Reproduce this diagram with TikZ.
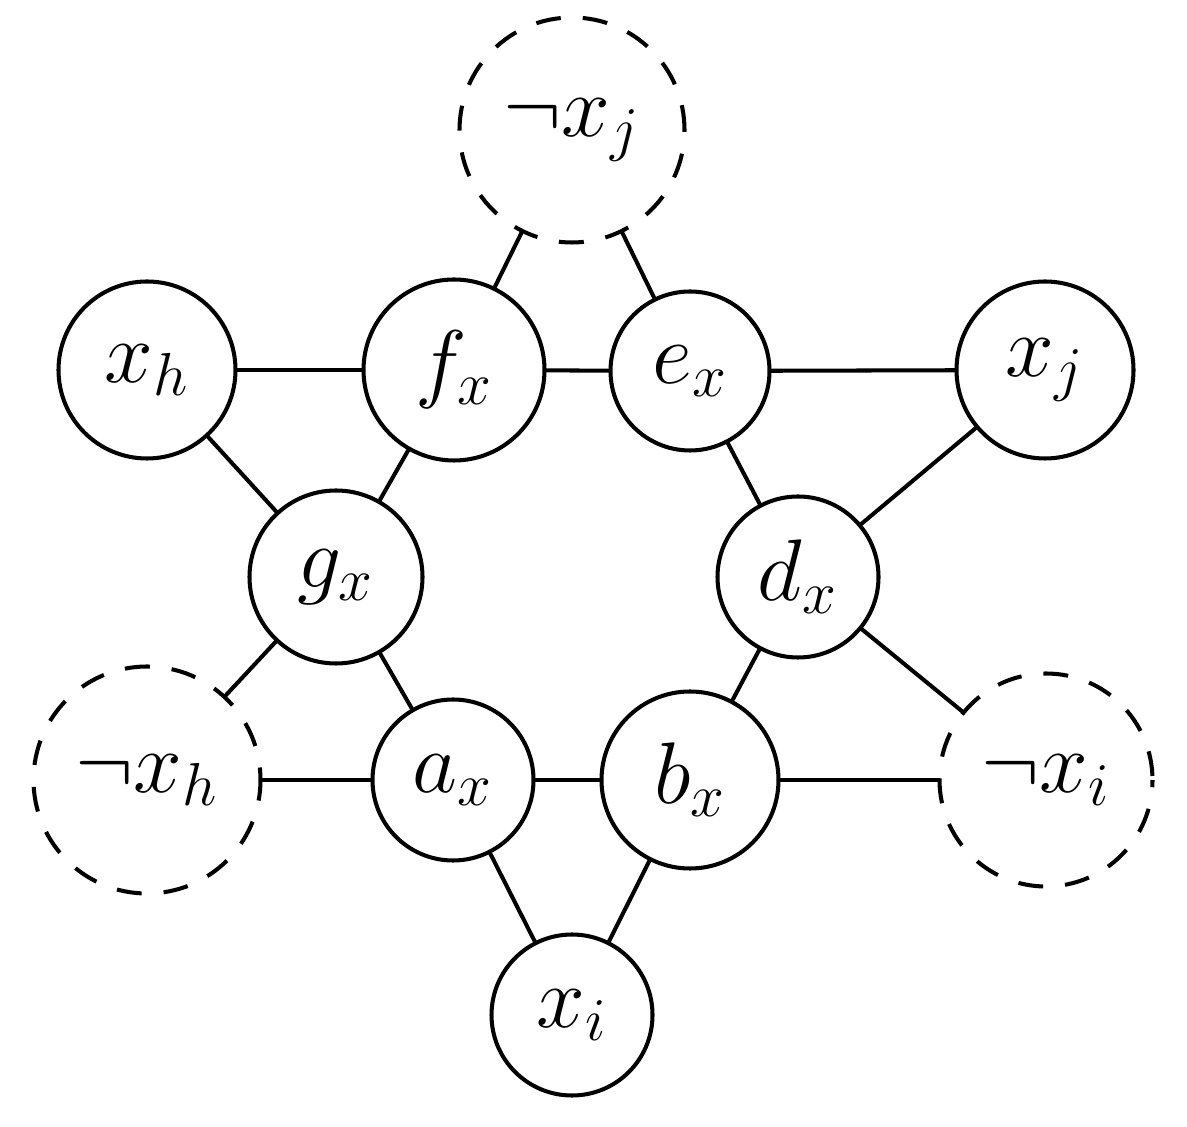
\documentclass[tikz,border=0pt]{standalone}
\begin{document}
\begin{tikzpicture}[
  vnode/.style={circle,draw,line width=1.15pt,inner sep=0pt,outer sep=0pt,font=\fontsize{25.5}{30}\selectfont},
  neg/.style={vnode,dash pattern=on 0.25cm off 0.22cm},
  edge/.style={line width=1.15pt}
]
\useasboundingbox (0,0) rectangle (11.87,-11.27);
\node[neg,minimum size=2.25cm] (nxj) at (5.72,-1.30) {$\neg x_j$};
\node[vnode,minimum size=1.77cm] (xh) at (1.47,-3.70) {$x_h$};
\node[vnode,minimum size=1.81cm] (fx) at (4.54,-3.70) {$f_x$};
\node[vnode,minimum size=1.59cm] (ex) at (6.90,-3.71) {$e_x$};
\node[vnode,minimum size=1.77cm] (xj) at (10.45,-3.70) {$x_j$};
\node[vnode,minimum size=1.73cm] (gx) at (3.36,-5.77) {$g_x$};
\node[vnode,minimum size=1.61cm] (dx) at (7.98,-5.77) {$d_x$};
\node[neg,minimum size=2.27cm,dash phase=0.125cm] (nxh) at (1.47,-7.80) {$\neg x_h$};
\node[vnode,minimum size=1.61cm] (ax) at (4.53,-7.80) {$a_x$};
\node[vnode,minimum size=1.77cm] (bx) at (6.90,-7.80) {$b_x$};
\node[neg,minimum size=2.13cm,dash phase=0.43cm] (nxi) at (10.46,-7.80) {$\neg x_i$};
\node[vnode,minimum size=1.61cm] (xi) at (5.72,-10.15) {$x_i$};
\draw[edge] (nxj) -- (fx);
\draw[edge] (nxj) -- (ex);
\draw[edge] (xh) -- (fx);
\draw[edge] (fx) -- (ex);
\draw[edge] (ex) -- (xj);
\draw[edge] (xh) -- (gx);
\draw[edge] (fx) -- (gx);
\draw[edge] (ex) -- (dx);
\draw[edge] (xj) -- (dx);
\draw[edge] (gx) -- (nxh);
\draw[edge] (gx) -- (ax);
\draw[edge] (dx) -- (bx);
\draw[edge] (dx) -- (nxi);
\draw[edge] (nxh) -- (ax);
\draw[edge] (ax) -- (bx);
\draw[edge] (bx) -- (nxi);
\draw[edge] (ax) -- (xi);
\draw[edge] (bx) -- (xi);
\end{tikzpicture}
\end{document}
